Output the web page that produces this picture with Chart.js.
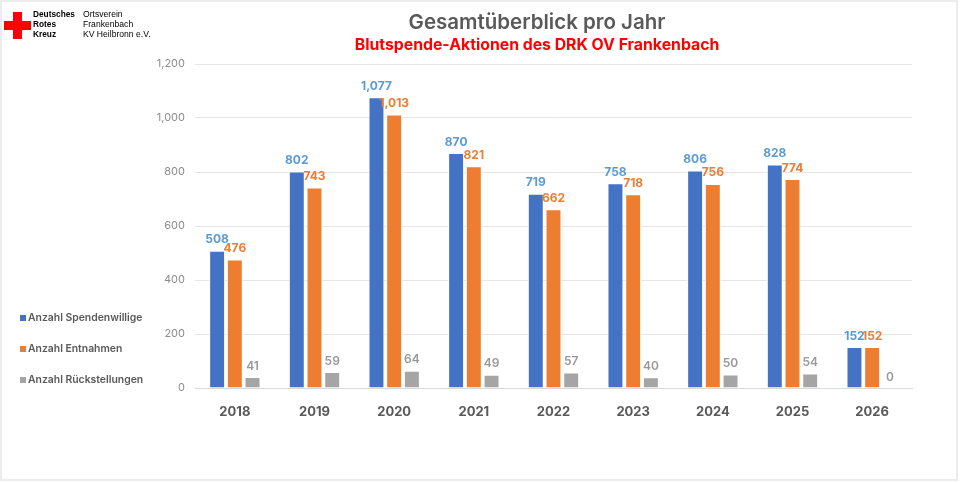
<!DOCTYPE html>
<html>
<head>
<meta charset="utf-8">
<script src="https://cdn.jsdelivr.net/npm/chart.js@4/dist/chart.umd.min.js"></script>
<style>
  html, body { margin: 0; padding: 0; background: #fff; }
  #wrap { position: relative; width: 960px; height: 483px; }
  #frame { position: absolute; left: 0; top: 0; width: 954px; height: 477px; border: 2px solid #ececec; pointer-events: none; }
  canvas { position: absolute; left: 0; top: 0; }
</style>
</head>
<body>
<div id="wrap">
  <canvas id="barChart" width="960" height="483"></canvas>
  <div id="frame"></div>
</div>
<script>
const years = ['2018', '2019', '2020', '2021', '2022', '2023', '2024', '2025', '2026'];
const spendenwillige = [508, 802, 1077, 870, 719, 758, 806, 828, 152];
const entnahmen = [476, 743, 1013, 821, 662, 718, 756, 774, 152];
const rueckstellungen = [41, 59, 64, 49, 57, 40, 50, 54, 0];
const yTicks = [0, 200, 400, 600, 800, 1000, 1200];

const seriesNames = ['Anzahl Spendenwillige', 'Anzahl Entnahmen', 'Anzahl Rückstellungen'];
const barColors = ['#4472C4', '#ED7D31', '#A5A5A5'];
const labelColors = ['#5B9BD5', '#ED7D31', '#999999'];

const FONT = 'Inter, "Open Sans", "DejaVu Sans", sans-serif';

// data labels above each bar
const valueLabels = {
    id: 'valueLabels',
    afterDatasetsDraw(chart) {
        const ctx = chart.ctx;
        ctx.save();
        ctx.textAlign = 'center';
        ctx.textBaseline = 'middle';
        chart.data.datasets.forEach((ds, i) => {
            const meta = chart.getDatasetMeta(i);
            ctx.fillStyle = labelColors[i];
            ctx.font = (i === 2 ? '600 12px ' : '700 12px ') + FONT;
            meta.data.forEach((bar, j) => {
                ctx.fillText(ds.data[j].toLocaleString('en-US'), bar.x, bar.y - 11);
            });
        });
        ctx.restore();
    }
};

// titles, logo and left legend
const decorations = {
    id: 'decorations',
    afterDraw(chart) {
        const ctx = chart.ctx;
        ctx.save();

        // red cross
        ctx.fillStyle = '#FF0000';
        ctx.fillRect(13, 12, 9, 27);
        ctx.fillRect(4, 21, 27, 9);

        ctx.fillStyle = '#000';
        ctx.textBaseline = 'middle';
        ctx.textAlign = 'left';
        ctx.font = 'bold 8.3px "Liberation Sans", Arial, sans-serif';
        ctx.fillText('Deutsches', 33, 15);
        ctx.fillText('Rotes', 33, 25);
        ctx.fillText('Kreuz', 33, 34.5);
        ctx.font = '8.6px "Liberation Sans", Arial, sans-serif';
        ctx.fillText('Ortsverein', 83, 15);
        ctx.fillText('Frankenbach', 83, 25);
        ctx.fillText('KV Heilbronn e.V.', 83, 34.5);

        // titles
        ctx.textAlign = 'center';
        ctx.fillStyle = '#595959';
        ctx.font = '600 20.5px ' + FONT;
        ctx.fillText('Gesamtüberblick pro Jahr', 537, 23);
        ctx.fillStyle = '#FF0000';
        ctx.font = '700 15.8px ' + FONT;
        ctx.fillText('Blutspende-Aktionen des DRK OV Frankenbach', 537, 45);

        // legend
        ctx.textAlign = 'left';
        ctx.font = '600 10.4px ' + FONT;
        const legendY = [318, 349, 380];
        seriesNames.forEach((name, i) => {
            ctx.fillStyle = barColors[i];
            ctx.fillRect(20, legendY[i] - 3, 6, 6);
            ctx.fillStyle = '#595959';
            ctx.fillText(name, 28, legendY[i]);
        });

        ctx.restore();
    }
};

const datasets = [spendenwillige, entnahmen, rueckstellungen].map((values, i) => ({
    label: seriesNames[i],
    data: values,
    backgroundColor: barColors[i],
    borderColor: '#ffffff',
    borderWidth: 1,
    barPercentage: 0.9,
    categoryPercentage: 0.667
}));

new Chart(document.getElementById('barChart').getContext('2d'), {
    type: 'bar',
    data: { labels: years, datasets: datasets },
    options: {
        responsive: false,
        animation: false,
        devicePixelRatio: 1,
        layout: { padding: { left: 95, top: 64, right: 48, bottom: 65 } },
        plugins: {
            legend: { display: false },
            title: { display: false },
            tooltip: { enabled: false }
        },
        scales: {
            x: {
                grid: { display: false },
                border: { display: true, color: '#d9d9d9', width: 1 },
                ticks: {
                    color: '#595959',
                    font: { family: FONT, size: 13, weight: '700' },
                    padding: 8
                },
                afterFit: s => { s.height = 30; }
            },
            y: {
                min: 0,
                max: 1200,
                afterBuildTicks: s => { s.ticks = yTicks.map(v => ({ value: v })); },
                grid: { color: '#e6e6e6', drawTicks: false },
                border: { display: false },
                ticks: {
                    color: '#8c8c8c',
                    font: { family: FONT, size: 11 },
                    padding: 10,
                    callback: v => v.toLocaleString('en-US')
                },
                afterFit: s => { s.width = 100; }
            }
        }
    },
    plugins: [valueLabels, decorations]
});
</script>
</body>
</html>
